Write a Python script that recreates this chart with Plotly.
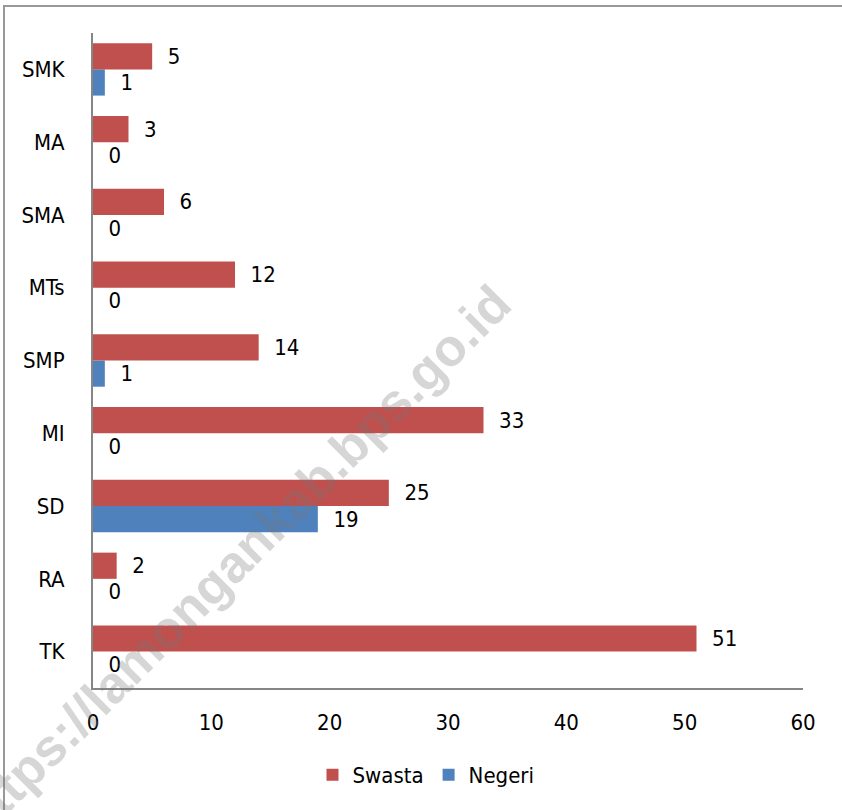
import plotly.graph_objects as go

categories = ["TK", "RA", "SD", "MI", "SMP", "MTs", "SMA", "MA", "SMK"]
swasta = [51, 2, 25, 33, 14, 12, 6, 3, 5]
negeri = [0, 0, 19, 0, 1, 0, 0, 0, 1]
x_ticks = [0, 10, 20, 30, 40, 50, 60]

FONT = "DejaVu Sans Condensed, Liberation Sans Narrow, Liberation Sans, sans-serif"
FS = 22
RED = "#C0504D"
BLUE = "#4F81BD"

fig = go.Figure()
fig.add_trace(go.Bar(
    y=categories, x=negeri, orientation="h", name="Negeri",
    marker=dict(color=BLUE, line=dict(width=0)),
    text=negeri, texttemplate="  %{x}", textposition="outside",
    textfont=dict(family=FONT, size=FS, color="#000000"),
    cliponaxis=False,
))
fig.add_trace(go.Bar(
    y=categories, x=swasta, orientation="h", name="Swasta",
    marker=dict(color=RED, line=dict(width=0)),
    text=swasta, texttemplate="  %{x}", textposition="outside",
    textfont=dict(family=FONT, size=FS, color="#000000"),
    cliponaxis=False,
))

L, R, T, B = 93, 39, 33, 122
W, H = 842, 810
pw, ph = W - L - R, H - T - B

def px(xp):
    return (xp - L) / pw

def py(yp):
    return (H - B - yp) / ph

fig.update_layout(
    width=W, height=H,
    margin=dict(l=L, r=R, t=T, b=B, autoexpand=False),
    paper_bgcolor="white", plot_bgcolor="white",
    barmode="group", bargap=0.28, bargroupgap=0,
    font=dict(family=FONT, size=FS, color="#000000"),
    showlegend=True,
    legend=dict(
        orientation="h", traceorder="reversed",
        x=px(426), xanchor="center", y=py(775), yanchor="middle",
        font=dict(family=FONT, size=FS, color="#000000"),
        itemwidth=30,
    ),
    xaxis=dict(
        range=[0, 60], tickvals=x_ticks, ticktext=[str(v) for v in x_ticks],
        showgrid=False, zeroline=False, showline=True,
        linecolor="#868686", linewidth=2, ticks="",
        ticklabelstandoff=14, automargin=False,
        tickfont=dict(family=FONT, size=FS, color="#000000"),
    ),
    yaxis=dict(
        categoryorder="array", categoryarray=categories,
        showgrid=False, zeroline=False, showline=True,
        linecolor="#868686", linewidth=2, ticks="",
        ticklabelstandoff=22, automargin=False,
        tickfont=dict(family=FONT, size=FS, color="#000000"),
    ),
)

# chart border (Excel chart area frame)
fig.add_shape(
    type="rect", xref="paper", yref="paper",
    x0=px(4), x1=px(900), y0=py(900), y1=py(6),
    line=dict(color="#999999", width=2), fillcolor="rgba(0,0,0,0)",
    layer="above",
)

# watermark
fig.add_annotation(
    text="https://lamongankab.bps.go.id",
    xref="paper", yref="paper", x=px(235), y=py(561),
    xanchor="center", yanchor="middle", showarrow=False,
    textangle=-45,
    font=dict(family="Liberation Sans, Arial, sans-serif", size=52,
              color="rgba(120,120,120,0.3)", weight="bold"),
)

fig.write_html(
    "out.html",
    config={"displayModeBar": False},
    post_script="document.body.style.margin='0';document.body.style.overflow='hidden';",
)
